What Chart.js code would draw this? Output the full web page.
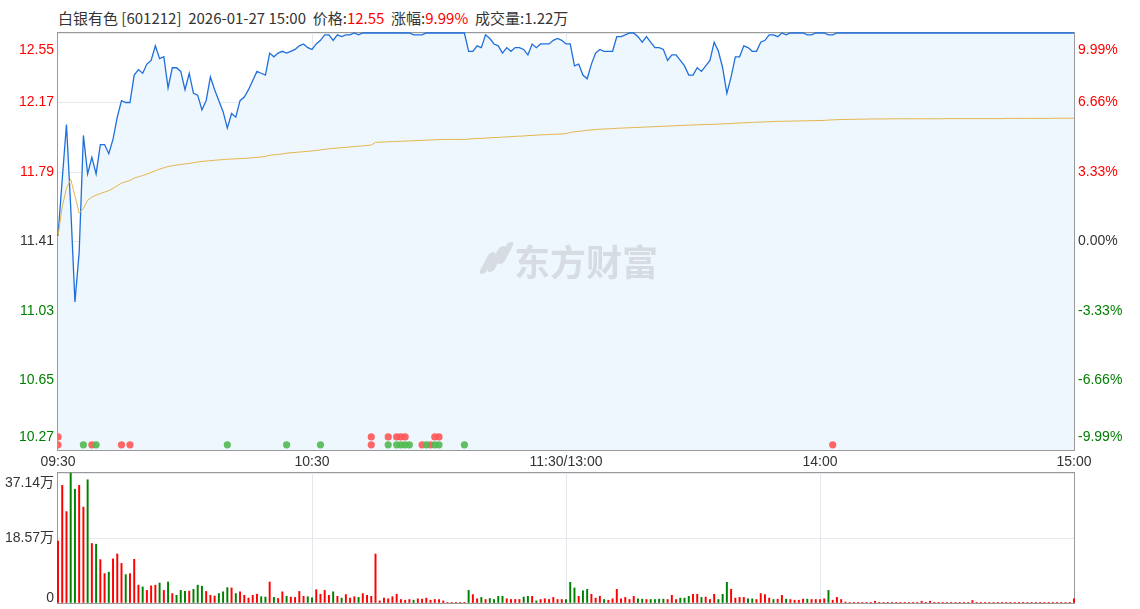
<!DOCTYPE html>
<html lang="zh-CN">
<head>
<meta charset="utf-8">
<title>白银有色 分时图</title>
<script src="https://cdn.jsdelivr.net/npm/chart.js@4.4.1/dist/chart.umd.min.js"></script>
<style>
  html, body { margin: 0; padding: 0; background: #fff; }
  #wrap { position: relative; width: 1140px; height: 609px; overflow: hidden; }
  #header {
    position: absolute; left: 58px; top: 8px;
    font: 15px "Noto Sans CJK SC", "Liberation Sans", sans-serif;
    color: #333; white-space: pre; line-height: 20px;
  }
  #header .up { color: #f00; }
  #priceChart { position: absolute; left: 0; top: 0; }
  #volChart { position: absolute; left: 0; top: 465px; }
  #mark {
    position: absolute; left: 514px; top: 234px;
    font: bold 36px "Noto Sans CJK SC", sans-serif;
    color: #d7dce2; pointer-events: none;
  }
  #logo { position: absolute; left: 478px; top: 242px; width: 34px; height: 32px; pointer-events: none; }
  #logo i {
    position: absolute; display: block; width: 7px; background: #d7dce2;
    border-radius: 4px; transform: skewX(-28deg);
  }
</style>
</head>
<body>
<div id="wrap">
  <div id="header">白银有色 [601212]  2026-01-27 15:00  价格:<span class="up">12.55</span>  涨幅:<span class="up">9.99%</span>  成交量:1.22万</div>
  <canvas id="priceChart" width="1140" height="474"></canvas>
  <canvas id="volChart" width="1140" height="144"></canvas>
  <div id="logo"><i style="left:6px;top:10px;height:22px"></i><i style="left:15px;top:4px;height:26px"></i><i style="left:24px;top:0;height:22px"></i></div>
  <div id="mark">东方财富</div>
</div>
<script>
// 分时数据 (每分钟一个点, 09:30-11:30 + 13:01-15:00 = 241 个点)
const timeLabels = ['09:30', '10:30', '11:30/13:00', '14:00', '15:00'];
const priceTicks = [10.27, 10.65, 11.03, 11.41, 11.79, 12.17, 12.55];
const pctLabels = ['-9.99%', '-6.66%', '-3.33%', '0.00%', '3.33%', '6.66%', '9.99%'];
const volTicks = [0, 18.57, 37.14];
const volLabels = ['0', '18.57万', '37.14万'];
const preClose = 11.41;

const price = [
  11.44, 11.75, 12.05, 11.60, 11.08, 11.35, 11.99, 11.78, 11.87, 11.78,
  11.94, 11.94, 11.89, 11.97, 12.09, 12.18, 12.17, 12.17, 12.32, 12.35,
  12.33, 12.38, 12.40, 12.48, 12.41, 12.42, 12.25, 12.36, 12.36, 12.34,
  12.24, 12.33, 12.22, 12.21, 12.13, 12.18, 12.31, 12.24, 12.18, 12.12,
  12.03, 12.11, 12.09, 12.18, 12.20, 12.24, 12.29, 12.34, 12.33, 12.32,
  12.44, 12.42, 12.44, 12.45, 12.44, 12.45, 12.46, 12.48, 12.49, 12.47,
  12.46, 12.49, 12.51, 12.54, 12.54, 12.51, 12.54, 12.53, 12.54, 12.54,
  12.55, 12.54, 12.55, 12.55, 12.55, 12.55, 12.55, 12.55, 12.55, 12.55,
  12.55, 12.55, 12.55, 12.55, 12.54, 12.54, 12.54, 12.55, 12.55, 12.55,
  12.55, 12.55, 12.55, 12.55, 12.55, 12.55, 12.55, 12.45, 12.45, 12.48,
  12.47, 12.54, 12.52, 12.49, 12.48, 12.44, 12.47, 12.45, 12.47, 12.47,
  12.46, 12.43, 12.49, 12.47, 12.49, 12.49, 12.49, 12.51, 12.52, 12.51,
  12.49, 12.49, 12.37, 12.38, 12.32, 12.30, 12.38, 12.44, 12.46, 12.45,
  12.45, 12.45, 12.53, 12.53, 12.54, 12.55, 12.55, 12.53, 12.50, 12.53,
  12.50, 12.47, 12.47, 12.46, 12.40, 12.43, 12.43, 12.40, 12.37, 12.32,
  12.32, 12.36, 12.34, 12.37, 12.40, 12.50, 12.45, 12.36, 12.22, 12.31,
  12.42, 12.42, 12.48, 12.47, 12.45, 12.45, 12.50, 12.51, 12.54, 12.54,
  12.53, 12.55, 12.54, 12.55, 12.55, 12.55, 12.55, 12.54, 12.54, 12.55,
  12.55, 12.55, 12.54, 12.54, 12.55, 12.55, 12.55, 12.55, 12.55, 12.55,
  12.55, 12.55, 12.55, 12.55, 12.55, 12.55, 12.55, 12.55, 12.55, 12.55,
  12.55, 12.55, 12.55, 12.55, 12.55, 12.55, 12.55, 12.55, 12.55, 12.55,
  12.55, 12.55, 12.55, 12.55, 12.55, 12.55, 12.55, 12.55, 12.55, 12.55,
  12.55, 12.55, 12.55, 12.55, 12.55, 12.55, 12.55, 12.55, 12.55, 12.55,
  12.55, 12.55, 12.55, 12.55, 12.55, 12.55, 12.55, 12.55, 12.55, 12.55,
  12.55
];

const avgPrice = [
  11.440, 11.600, 11.700, 11.750, 11.660, 11.565, 11.590, 11.635, 11.653, 11.663,
  11.672, 11.680, 11.688, 11.700, 11.715, 11.729, 11.737, 11.744, 11.757, 11.764,
  11.771, 11.778, 11.788, 11.797, 11.806, 11.813, 11.820, 11.824, 11.828, 11.831,
  11.834, 11.837, 11.841, 11.845, 11.848, 11.850, 11.852, 11.854, 11.856, 11.858,
  11.860, 11.861, 11.862, 11.863, 11.864, 11.866, 11.868, 11.870, 11.872, 11.875,
  11.882, 11.884, 11.886, 11.889, 11.893, 11.895, 11.897, 11.899, 11.901, 11.903,
  11.905, 11.908, 11.911, 11.914, 11.917, 11.919, 11.921, 11.923, 11.925, 11.927,
  11.929, 11.931, 11.933, 11.935, 11.937, 11.952, 11.953, 11.954, 11.955, 11.956,
  11.957, 11.958, 11.959, 11.960, 11.961, 11.962, 11.963, 11.964, 11.965, 11.966,
  11.967, 11.968, 11.968, 11.968, 11.968, 11.968, 11.968, 11.970, 11.972, 11.973,
  11.974, 11.975, 11.977, 11.978, 11.979, 11.981, 11.982, 11.983, 11.985, 11.986,
  11.987, 11.989, 11.990, 11.991, 11.993, 11.994, 11.995, 11.996, 11.997, 11.998,
  12.000, 12.006, 12.010, 12.012, 12.015, 12.018, 12.020, 12.022, 12.024, 12.025,
  12.026, 12.027, 12.029, 12.030, 12.031, 12.032, 12.033, 12.034, 12.035, 12.036,
  12.037, 12.038, 12.039, 12.040, 12.041, 12.042, 12.043, 12.044, 12.045, 12.046,
  12.047, 12.048, 12.049, 12.050, 12.050, 12.051, 12.052, 12.053, 12.054, 12.055,
  12.057, 12.058, 12.059, 12.060, 12.061, 12.062, 12.063, 12.064, 12.065, 12.066,
  12.067, 12.067, 12.068, 12.068, 12.069, 12.069, 12.070, 12.070, 12.071, 12.071,
  12.072, 12.072, 12.074, 12.075, 12.076, 12.077, 12.077, 12.078, 12.078, 12.079,
  12.079, 12.079, 12.080, 12.080, 12.080, 12.080, 12.080, 12.081, 12.081, 12.081,
  12.081, 12.081, 12.081, 12.081, 12.081, 12.081, 12.081, 12.081, 12.081, 12.081,
  12.082, 12.082, 12.082, 12.082, 12.082, 12.082, 12.082, 12.082, 12.082, 12.082,
  12.082, 12.082, 12.082, 12.082, 12.083, 12.083, 12.083, 12.083, 12.083, 12.083,
  12.083, 12.083, 12.083, 12.083, 12.083, 12.084, 12.084, 12.084, 12.084, 12.084,
  12.084
];

// 成交量 (万股)
const volume = [
  17.7, 33.6, 26.1, 37.1, 32.5, 33.6, 27.4, 35.2, 17.0, 16.8,
  12.4, 8.4, 8.8, 12.6, 14.0, 11.3, 8.1, 8.4, 12.5, 5.1,
  4.6, 3.6, 4.9, 5.1, 5.7, 3.6, 6.0, 2.7, 2.2, 3.6,
  3.3, 3.4, 3.9, 5.1, 4.8, 3.3, 2.2, 2.0, 2.7, 3.2,
  4.4, 4.3, 2.7, 3.2, 2.2, 1.4, 2.2, 2.5, 1.8, 1.7,
  6.0, 1.6, 1.3, 3.2, 1.9, 1.7, 1.6, 3.3, 1.9, 1.8,
  1.5, 3.8, 2.5, 3.6, 2.2, 3.2, 1.9, 1.4, 2.4, 1.4,
  1.8, 1.6, 2.7, 2.2, 1.9, 14.0, 0.6, 1.4, 1.2, 1.8,
  2.5, 1.0, 0.8, 1.0, 0.8, 1.2, 1.1, 1.4, 0.8, 1.0,
  1.0, 0.6, 0.2, 0.2, 0.2, 0.2, 0.2, 3.6, 2.4, 1.2,
  1.6, 1.0, 1.3, 1.0, 1.9, 1.9, 1.2, 1.0, 1.0, 1.0,
  1.7, 1.9, 1.9, 0.6, 1.0, 1.2, 1.0, 1.6, 1.0, 1.0,
  1.0, 5.9, 4.3, 1.9, 3.5, 3.9, 2.5, 1.4, 1.9, 1.0,
  0.8, 1.2, 3.9, 1.2, 1.6, 1.0, 1.9, 1.2, 1.1, 1.0,
  1.0, 1.0, 1.1, 1.1, 1.0, 2.2, 1.0, 1.4, 1.4, 1.9,
  2.5, 2.5, 1.6, 1.7, 1.0, 2.5, 1.0, 2.5, 5.9, 3.9,
  1.4, 1.6, 1.6, 1.2, 1.2, 1.0, 2.7, 2.4, 1.4, 1.0,
  1.1, 2.2, 1.1, 1.0, 0.8, 0.8, 1.1, 1.1, 1.0, 1.0,
  1.0, 1.2, 3.6, 0.8, 1.6, 1.0, 0.3, 0.2, 0.2, 0.2,
  0.2, 0.2, 0.2, 0.5, 0.2, 0.2, 0.2, 0.2, 0.2, 0.2,
  0.2, 0.2, 0.2, 0.2, 0.5, 0.2, 0.5, 0.2, 0.2, 0.2,
  0.2, 0.2, 0.2, 0.2, 0.2, 0.2, 0.7, 0.2, 0.2, 0.2,
  0.2, 0.2, 0.2, 0.2, 0.2, 0.2, 0.2, 0.2, 0.2, 0.2,
  0.2, 0.2, 0.2, 0.2, 0.2, 0.2, 0.2, 0.2, 0.2, 0.2,
  1.2
];

// r = 上涨(红), g = 下跌(绿)
const volDir = (
  'rrrggrrgrg' + 'rrgrrrgrrr' + 'grrrgrgrgg' + 'grgggrrrgg' + 'grgrrrrrgg' +
  'rgrrgrrrrg' + 'grrrrgrgrr' + 'rgrrrrrrrr' + 'rrrrgrrrrr' + 'rrrrrrrgrr' +
  'grggggrrrr' + 'ggrgrrrrrr' + 'gggrggrrrg' + 'rrrrrrrggr' + 'ggggrrrggg' +
  'rrgrrrgggr' + 'rrrggrrrrg' + 'rrgrrrrgrr' + 'rrgrrrrrrr' + 'rrrrrrrrrr' +
  'rrrrrrrrrr' + 'rrrrrrrrrr' + 'rrrrrrrrrr' + 'rrrrrrrrrr' + 'r'
).split('');

// 盘中异动标记 (分钟序号)
const redUpper = [0, 74, 78, 80, 81, 82, 89, 90];
const redLower = [0, 8, 15, 17, 74, 86, 88, 183];
const greenLower = [6, 9, 40, 54, 62, 78, 80, 81, 82, 83, 87, 89, 90, 96];

const UP = '#ff0000';
const DOWN = '#008000';
const FLAT = '#333333';
const FONT = '"Liberation Sans", Arial, sans-serif';

const minutes = price.map((p, i) => i);

function labelColor(v) {
  if (Math.abs(v - preClose) < 0.001) return FLAT;
  return v > preClose ? UP : DOWN;
}

// 画外框 (数据之前, 让涨停价的线压住边框)
const framePlugin = {
  id: 'frame',
  beforeDatasetsDraw(chart) {
    const { ctx, chartArea: a } = chart;
    ctx.save();
    ctx.strokeStyle = '#9a9a9a';
    ctx.lineWidth = 1;
    ctx.strokeRect(Math.round(a.left) - 0.5, Math.round(a.top) - 0.5,
      Math.round(a.right - a.left) + 1, Math.round(a.bottom - a.top) + 1);
    ctx.restore();
  }
};

// 纵轴文字: 首尾刻度的文字往里收
const axisTextPlugin = {
  id: 'axisText',
  afterDraw(chart, args, opts) {
    const { ctx, chartArea: a } = chart;
    const ys = chart.scales.y;
    ctx.save();
    ctx.font = '14px ' + FONT;
    ctx.textBaseline = 'middle';
    opts.values.forEach((v, i) => {
      let y = ys.getPixelForValue(v);
      if (i === 0) y += opts.bottomShift;
      if (i === opts.values.length - 1) y += opts.topShift;
      ctx.fillStyle = opts.color(v);
      ctx.textAlign = 'right';
      ctx.fillText(opts.left[i], a.left - 4, y);
      if (opts.right) {
        ctx.textAlign = 'left';
        ctx.fillText(opts.right[i], a.right + 4, y);
      }
    });
    ctx.restore();
  }
};

function vGridColor(c) {
  const v = c.tick ? c.tick.value : 0;
  return (v === 0 || v === 240) ? 'rgba(0,0,0,0)' : '#e3e8ee';
}

const dotStyle = (color) => ({
  type: 'scatter', yAxisID: 'yRow', order: 0,
  pointRadius: 3.6, pointHoverRadius: 3.6, borderWidth: 0,
  backgroundColor: color, pointBackgroundColor: color
});

new Chart(document.getElementById('priceChart'), {
  type: 'line',
  data: {
    datasets: [
      {
        label: '价格', order: 2,
        data: minutes.map(i => ({ x: i, y: price[i] })),
        borderColor: '#1f6fdb', borderWidth: 1.3,
        backgroundColor: '#eff7fe', fill: 'start',
        pointRadius: 0, tension: 0, clip: false
      },
      {
        label: '均价', order: 1,
        data: minutes.map(i => ({ x: i, y: avgPrice[i] })),
        borderColor: '#e4b64c', borderWidth: 1,
        pointRadius: 0, tension: 0, fill: false
      },
      Object.assign(dotStyle('rgba(80,185,80,0.9)'), { label: '异动-跌', data: greenLower.map(m => ({ x: m, y: 1 })) }),
      Object.assign(dotStyle('rgba(255,85,85,0.9)'), { label: '异动-涨', data: redLower.map(m => ({ x: m, y: 1 })) }),
      Object.assign(dotStyle('rgba(255,85,85,0.9)'), { label: '异动-涨2', data: redUpper.map(m => ({ x: m, y: 2.5 })) })
    ]
  },
  options: {
    responsive: false,
    animation: false,
    events: [],
    layout: { padding: { top: 33, right: 66, left: 0, bottom: 0 } },
    plugins: {
      legend: { display: false },
      tooltip: { enabled: false },
      axisText: {
        values: priceTicks, left: priceTicks.map(v => v.toFixed(2)), right: pctLabels,
        color: labelColor, topShift: 17, bottomShift: -13
      }
    },
    scales: {
      x: {
        type: 'linear', min: 0, max: 240,
        afterBuildTicks: s => { s.ticks = [0, 60, 120, 180, 240].map(v => ({ value: v })); },
        afterFit: s => { s.height = 24; },
        ticks: {
          color: '#333', font: { family: FONT, size: 14 }, padding: 4,
          maxRotation: 0, autoSkip: false,
          callback: (v) => timeLabels[v / 60]
        },
        grid: { color: vGridColor, drawTicks: false },
        border: { display: false }
      },
      y: {
        min: priceTicks[0], max: priceTicks[priceTicks.length - 1],
        afterBuildTicks: s => { s.ticks = priceTicks.map(v => ({ value: v })); },
        afterFit: s => { s.width = 58; },
        ticks: { display: false },
        grid: { color: '#e6eaef', drawTicks: false },
        border: { display: false }
      },
      yRow: {
        display: false, min: 0, max: 80
      }
    }
  },
  plugins: [framePlugin, axisTextPlugin]
});

new Chart(document.getElementById('volChart'), {
  type: 'bar',
  data: {
    datasets: [{
      label: '成交量',
      data: minutes.map(i => ({ x: i, y: volume[i] })),
      backgroundColor: volDir.map(d => d === 'r' ? UP : DOWN),
      barThickness: 1.3,
      borderWidth: 0,
      clip: false
    }]
  },
  options: {
    responsive: false,
    animation: false,
    events: [],
    layout: { padding: { top: 8, right: 66, left: 0, bottom: 6 } },
    plugins: {
      legend: { display: false },
      tooltip: { enabled: false },
      axisText: {
        values: volTicks, left: volLabels,
        color: () => '#333', topShift: 10, bottomShift: -5
      }
    },
    scales: {
      x: {
        type: 'linear', min: 0, max: 240, offset: false,
        afterBuildTicks: s => { s.ticks = [0, 60, 120, 180, 240].map(v => ({ value: v })); },
        afterFit: s => { s.height = 0; },
        ticks: { display: false },
        grid: { color: vGridColor, drawTicks: false, offset: false },
        border: { display: false }
      },
      y: {
        min: 0, max: volTicks[volTicks.length - 1],
        afterBuildTicks: s => { s.ticks = volTicks.map(v => ({ value: v })); },
        afterFit: s => { s.width = 58; },
        ticks: { display: false },
        grid: { color: '#e6eaef', drawTicks: false },
        border: { display: false }
      }
    }
  },
  plugins: [framePlugin, axisTextPlugin]
});
</script>
</body>
</html>
